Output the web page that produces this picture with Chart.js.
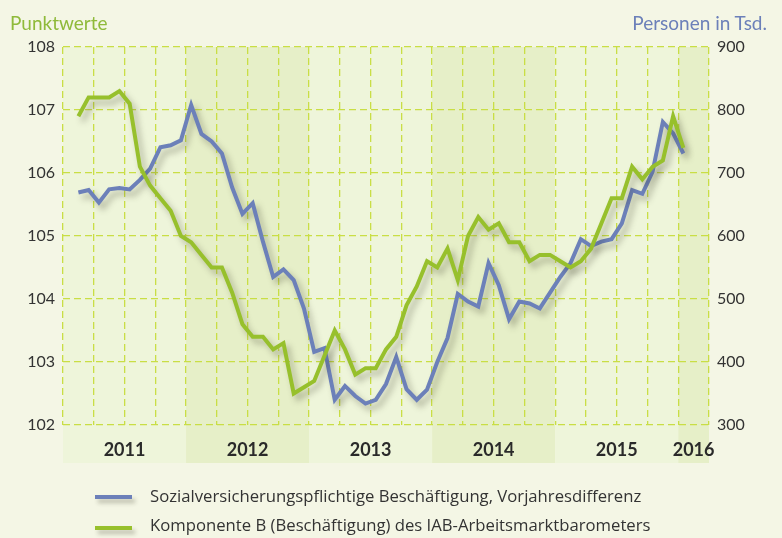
<!DOCTYPE html>
<html>
<head>
<meta charset="utf-8">
<script src="https://cdn.jsdelivr.net/npm/chart.js@4.4.1/dist/chart.umd.min.js"></script>
<style>
  html, body { margin: 0; padding: 0; background: #f4f6e5; }
  #wrap { position: relative; width: 782px; height: 538px; overflow: hidden; font-family: Lato, sans-serif; }
  #chart { position: absolute; left: 0; top: 0; }
  .ttl { position: absolute; top: 13px; font-size: 19px; line-height: 1; white-space: nowrap; }
  .leg { position: absolute; left: 150px; font-family: "Open Sans", sans-serif; font-size: 16.7px; line-height: 1; color: #333; white-space: nowrap; }
  .swatch { position: absolute; left: 95px; width: 37px; height: 4px; box-shadow: 3px 4px 4px rgba(60,60,40,0.3); }
</style>
</head>
<body>
<div id="wrap">
  <canvas id="chart" width="782" height="538"></canvas>
  <div class="ttl" id="tLeft" style="left:10px;color:#8fba3a">Punktwerte</div>
  <div class="ttl" id="tRight" style="right:15px;color:#6c80b9">Personen in Tsd.</div>
  <div class="swatch" style="top:495px;background:#6c80b9"></div>
  <div class="leg" id="legBlue" style="top:488px"></div>
  <div class="swatch" style="top:526px;background:#97c02c"></div>
  <div class="leg" id="legGreen" style="top:517px"></div>
</div>
<script>
// === Daten (Feb 2011 – Jan 2016, monatlich) ===
const years = ['2011', '2012', '2013', '2014', '2015', '2016'];
const yearCenters = [6, 18, 30, 42, 54, 61.5];   // Monate ab Jan 2011
const firstMonth = 1;                            // Feb 2011
const totalMonths = 63;                          // bis Ende Maerz 2016

const labelBlue = 'Sozialversicherungspflichtige Beschäftigung, Vorjahresdifferenz';
const labelGreen = 'Komponente B (Beschäftigung) des IAB-Arbeitsmarktbarometers';

// Personen in Tsd. (rechte Achse)
const beschaeftigung = [
  669, 673, 653, 674, 676, 674, 689, 707, 741, 744,
  752, 808, 762, 750, 731, 677, 635, 652, 591, 535,
  547, 530, 485, 416, 422, 340, 362, 346, 334, 340,
  365, 408, 357, 340, 356, 400, 438, 508, 496, 488,
  557, 522, 468, 496, 493, 485, 510, 535, 557, 595,
  584, 591, 595, 620, 673, 667, 702, 781, 763, 731
];

// Punktwerte (linke Achse)
const komponenteB = [
  106.9, 107.2, 107.2, 107.2, 107.3, 107.1, 106.1, 105.8, 105.6, 105.4,
  105.0, 104.9, 104.7, 104.5, 104.5, 104.1, 103.6, 103.4, 103.4, 103.2,
  103.3, 102.5, 102.6, 102.7, 103.1, 103.5, 103.2, 102.8, 102.9, 102.9,
  103.2, 103.4, 103.9, 104.2, 104.6, 104.5, 104.8, 104.3, 105.0, 105.3,
  105.1, 105.2, 104.9, 104.9, 104.6, 104.7, 104.7, 104.6, 104.5, 104.6,
  104.8, 105.2, 105.6, 105.6, 106.1, 105.9, 106.1, 106.2, 106.9, 106.4
];

const BLUE = '#6c80b9';
const GREEN = '#97c02c';
const GRID = '#c9de45';

document.getElementById('legBlue').textContent = labelBlue;
document.getElementById('legGreen').textContent = labelGreen;

// Monatsmitte als x-Wert
const toPoints = arr => arr.map((v, i) => ({ x: firstMonth + i + 0.5, y: v }));

// Jahresbaender hinter dem Diagramm
const yearBands = {
  id: 'yearBands',
  beforeDraw(chart) {
    const { ctx, chartArea: a, scales } = chart;
    const x = scales.x;
    const bottom = scales.xYear.bottom;
    ctx.save();
    years.forEach((y, k) => {
      const x0 = x.getPixelForValue(k * 12);
      const x1 = x.getPixelForValue(Math.min(k * 12 + 12, totalMonths));
      ctx.fillStyle = k % 2 ? '#e6efc8' : '#eef5da';
      ctx.fillRect(x0, a.top, x1 - x0, bottom - a.top);
    });
    ctx.restore();
  }
};

// Schatten unter den Linien
const lineShadow = {
  id: 'lineShadow',
  beforeDatasetDraw(chart) {
    const ctx = chart.ctx;
    ctx.save();
    ctx.shadowColor = 'rgba(60, 60, 40, 0.35)';
    ctx.shadowBlur = 6;
    ctx.shadowOffsetX = 4;
    ctx.shadowOffsetY = 5;
  },
  afterDatasetDraw(chart) {
    chart.ctx.restore();
  }
};

new Chart(document.getElementById('chart'), {
  type: 'line',
  data: {
    datasets: [
      {
        label: labelBlue,
        data: toPoints(beschaeftigung),
        yAxisID: 'y2',
        borderColor: BLUE,
        backgroundColor: BLUE,
        borderWidth: 4,
        pointRadius: 0,
        tension: 0,
        order: 1
      },
      {
        label: labelGreen,
        data: toPoints(komponenteB),
        yAxisID: 'y',
        borderColor: GREEN,
        backgroundColor: GREEN,
        borderWidth: 4,
        pointRadius: 0,
        tension: 0,
        order: 0
      }
    ]
  },
  options: {
    responsive: false,
    devicePixelRatio: 1,
    animation: false,
    layout: { padding: { top: 47, bottom: 75, left: 0, right: 0 } },
    plugins: { legend: { display: false }, tooltip: { enabled: false } },
    scales: {
      x: {
        type: 'linear', position: 'bottom', min: 0, max: totalMonths,
        ticks: { display: false, stepSize: 3 },
        grid: { color: GRID, lineWidth: 1.3, drawTicks: false },
        border: { display: false, dash: [7, 4] },
        afterFit: s => { s.height = 0; }
      },
      xYear: {
        type: 'linear', position: 'bottom', min: 0, max: totalMonths,
        afterBuildTicks: s => { s.ticks = yearCenters.map(v => ({ value: v })); },
        ticks: {
          autoSkip: false, maxRotation: 0, padding: 14,
          color: '#2a2a2a', font: { family: 'Lato', size: 18, weight: 'bold' },
          callback: (v, i) => years[i]
        },
        grid: { display: false, drawTicks: false },
        border: { display: false },
        afterFit: s => { s.height = 38; }
      },
      y: {
        position: 'left', min: 102, max: 108,
        ticks: { stepSize: 1, padding: 8, color: '#333', font: { family: 'Lato', size: 16 } },
        grid: { color: GRID, lineWidth: 1.3, drawTicks: false },
        border: { display: false, dash: [7, 4] },
        afterFit: s => { s.width = 63; }
      },
      y2: {
        position: 'right', min: 300, max: 900,
        ticks: { stepSize: 100, padding: 8, color: '#333', font: { family: 'Lato', size: 16 } },
        grid: { display: false, drawTicks: false },
        border: { display: false },
        afterFit: s => { s.width = 73; }
      }
    }
  },
  plugins: [yearBands, lineShadow]
});
</script>
</body>
</html>
